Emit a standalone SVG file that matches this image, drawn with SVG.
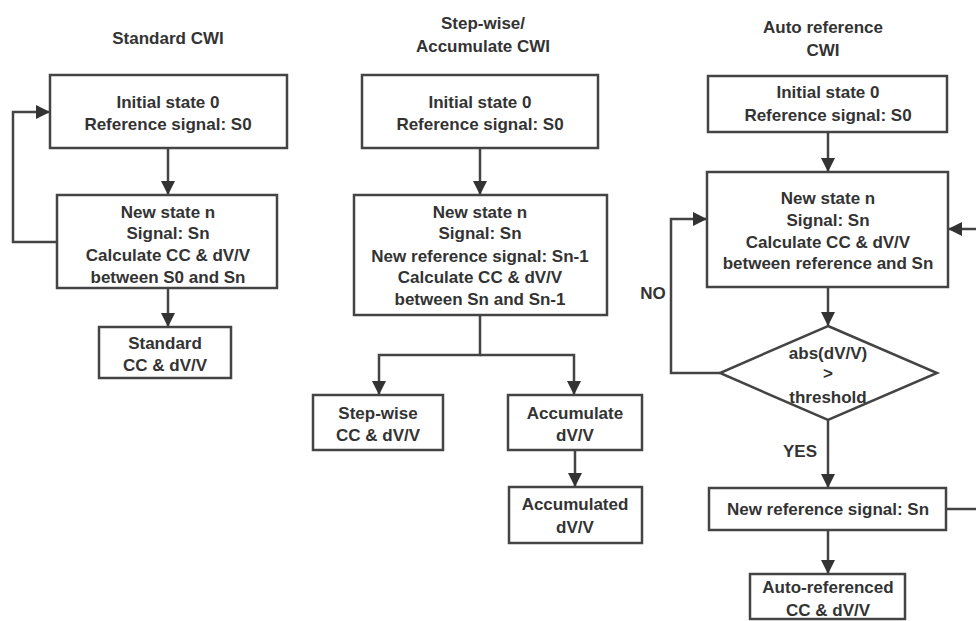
<svg xmlns="http://www.w3.org/2000/svg" width="976" height="621" viewBox="0 0 976 621">
<style>
text{font-family:"Liberation Sans",Arial,sans-serif;font-weight:bold;font-size:17px;fill:#333;text-anchor:middle;dominant-baseline:central}
.box{fill:#fff;stroke:#444;stroke-width:2.5}
.c{fill:none;stroke:#444;stroke-width:2.5}
</style>
<defs>
<marker id="ah" viewBox="0 0 14 14" refX="14" refY="7" markerWidth="14" markerHeight="14" markerUnits="userSpaceOnUse" orient="auto">
<path d="M0,0 L14,7 L0,14 Z" fill="#333"/>
</marker>
</defs>
<rect width="976" height="621" fill="#fff"/>
<g id="titles">
<text x="168" y="38">Standard CWI</text>
<text x="483" y="23">Step-wise/</text>
<text x="483" y="46">Accumulate CWI</text>
<text x="823" y="27">Auto reference</text>
<text x="823" y="50">CWI</text>
</g>
<g id="connectors">
<path class="c" d="M168,148 V195" marker-end="url(#ah)"/>
<path class="c" d="M57,242 H13 V112 H50" marker-end="url(#ah)"/>
<path class="c" d="M168,288 V327" marker-end="url(#ah)"/>
<path class="c" d="M480,148 V195" marker-end="url(#ah)"/>
<path class="c" d="M480,315 V355 H379 V395" marker-end="url(#ah)"/>
<path class="c" d="M480,355 H574 V395" marker-end="url(#ah)"/>
<path class="c" d="M575,450 V487" marker-end="url(#ah)"/>
<path class="c" d="M828,132 V172" marker-end="url(#ah)"/>
<path class="c" d="M828,287 V326" marker-end="url(#ah)"/>
<path class="c" d="M720,373 H671 V219 H707" marker-end="url(#ah)"/>
<path class="c" d="M828,420 V488" marker-end="url(#ah)"/>
<path class="c" d="M946,509 H985 V229 H948" marker-end="url(#ah)"/>
<path class="c" d="M828,530 V574" marker-end="url(#ah)"/>
<text x="653" y="293">NO</text>
<text x="800" y="451">YES</text>
</g>
<g id="std-initial">
<rect class="box" x="50" y="75" width="237" height="73"/>
<text x="168" y="102">Initial state 0</text>
<text x="168" y="124">Reference signal: S0</text>
</g>
<g id="std-new">
<rect class="box" x="57" y="195" width="220" height="93"/>
<text x="168" y="212">New state n</text>
<text x="168" y="233">Signal: Sn</text>
<text x="168" y="255">Calculate CC &amp; dV/V</text>
<text x="168" y="277">between S0 and Sn</text>
</g>
<g id="std-result">
<rect class="box" x="99" y="327" width="132" height="51"/>
<text x="165" y="343">Standard</text>
<text x="165" y="365">CC &amp; dV/V</text>
</g>
<g id="step-initial">
<rect class="box" x="362" y="75" width="236" height="73"/>
<text x="480" y="102">Initial state 0</text>
<text x="480" y="124">Reference signal: S0</text>
</g>
<g id="step-new">
<rect class="box" x="354" y="195" width="253" height="120"/>
<text x="480" y="212">New state n</text>
<text x="480" y="233">Signal: Sn</text>
<text x="480" y="256">New reference signal: Sn-1</text>
<text x="480" y="277">Calculate CC &amp; dV/V</text>
<text x="480" y="299">between Sn and Sn-1</text>
</g>
<g id="step-result">
<rect class="box" x="313" y="395" width="130" height="55"/>
<text x="378" y="413">Step-wise</text>
<text x="378" y="435">CC &amp; dV/V</text>
</g>
<g id="accumulate">
<rect class="box" x="508" y="395" width="134" height="55"/>
<text x="575" y="413">Accumulate</text>
<text x="575" y="435">dV/V</text>
</g>
<g id="accumulated">
<rect class="box" x="509" y="487" width="133" height="56"/>
<text x="575" y="504">Accumulated</text>
<text x="575" y="527">dV/V</text>
</g>
<g id="auto-initial">
<rect class="box" x="708" y="76" width="239" height="56"/>
<text x="828" y="92">Initial state 0</text>
<text x="828" y="115">Reference signal: S0</text>
</g>
<g id="auto-new">
<rect class="box" x="707" y="172" width="241" height="115"/>
<text x="828" y="198">New state n</text>
<text x="828" y="220">Signal: Sn</text>
<text x="828" y="242">Calculate CC &amp; dV/V</text>
<text x="828" y="263">between reference and Sn</text>
</g>
<g id="auto-decision">
<polygon class="box" points="828,326 937,373 828,420 720,373"/>
<text x="828" y="353">abs(dV/V)</text>
<text x="828" y="373">&gt;</text>
<text x="828" y="397">threshold</text>
</g>
<g id="auto-newref">
<rect class="box" x="709" y="488" width="237" height="42"/>
<text x="828" y="509">New reference signal: Sn</text>
</g>
<g id="auto-result">
<rect class="box" x="750" y="574" width="155" height="45"/>
<text x="828" y="587">Auto-referenced</text>
<text x="828" y="610">CC &amp; dV/V</text>
</g>
</svg>
